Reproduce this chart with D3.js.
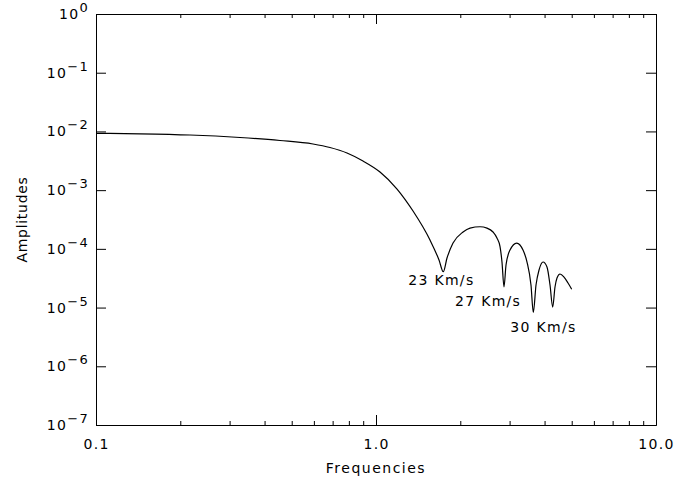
<!DOCTYPE html>
<html><head><meta charset="utf-8">
<script src="https://cdn.jsdelivr.net/npm/d3@7"></script>
<style>
body{margin:0;background:#fff;}
text{font-family:"DejaVu Sans",sans-serif;fill:#000;}
</style></head>
<body><svg id="c" width="690" height="481"></svg>
<script>
// Data
const frequencies = [0.1, 0.1436, 0.2166, 0.3268, 0.4541, 0.5957, 0.6849, 0.7878, 0.8987, 1.0335, 1.189, 1.356, 1.559, 1.679, 1.739,
  1.793, 1.884, 2.046, 2.167, 2.352, 2.491, 2.618, 2.704, 2.773, 2.818, 2.865,
  2.913, 3.010, 3.181, 3.350, 3.462, 3.577, 3.646,
  3.728, 3.822, 3.950, 4.08, 4.183, 4.276,
  4.358, 4.430, 4.541, 4.693, 4.851, 5.0];
const amplitudes = [9.29e-3, 9.11e-3, 8.69e-3, 7.88e-3, 7.00e-3, 6.10e-3, 5.32e-3, 4.29e-3, 3.13e-3, 2.036e-3, 1.045e-3, 4.41e-4, 1.415e-4, 6.46e-5, 4.08e-5,
  6.98e-5, 1.257e-4, 1.936e-4, 2.26e-4, 2.38e-4, 2.26e-4, 1.936e-4, 1.53e-4, 1.09e-4, 5.97e-5, 2.26e-5,
  5.31e-5, 9.55e-5, 1.257e-4, 9.55e-5, 5.97e-5, 2.42e-5, 8.24e-6,
  2.42e-5, 4.36e-5, 5.97e-5, 4.91e-5, 2.42e-5, 1.02e-5,
  2.24e-5, 3.19e-5, 3.73e-5, 3.31e-5, 2.62e-5, 2.05e-5];
const xMajorTicks = [0.1, 1, 10];
const xTickLabels = ["0.1", "1.0", "10.0"];
const xMinorTicks = [0.2,0.3,0.4,0.5,0.6,0.7,0.8,0.9,2,3,4,5,6,7,8,9];
const yTicks = [1e-7,1e-6,1e-5,1e-4,1e-3,1e-2,1e-1,1];
const yExponents = ["−7","−6","−5","−4","−3","−2","−1","0"];
const annotations = [
  {text:"23 Km/s", f:1.739, a:4.08e-5},
  {text:"27 Km/s", f:2.865, a:2.26e-5},
  {text:"30 Km/s", f:3.646, a:8.24e-6}
];
const annotOffsets = [[-35,13],[-49,19],[-23,19]];

const svg = d3.select("#c");
const L=96, R=656, T=14, B=425;
const x = d3.scaleLog().domain([0.1,10]).range([L,R]);
const y = d3.scaleLog().domain([1e-7,1]).range([B,T]);

const ls = "1.3px";

// bottom axis major
const gB = svg.append("g").attr("transform",`translate(0,${B})`)
  .call(d3.axisBottom(x).tickValues(xMajorTicks).tickSize(-10).tickSizeOuter(0).tickPadding(14)
    .tickFormat((d,i)=>xTickLabels[i]));
gB.selectAll("text").attr("font-size",14).attr("font-family","DejaVu Sans").style("letter-spacing",ls);
svg.append("g").attr("transform",`translate(0,${B})`)
  .call(d3.axisBottom(x).tickValues(xMinorTicks).tickSize(-4).tickSizeOuter(0).tickFormat(""));
// top axis
svg.append("g").attr("transform",`translate(0,${T})`)
  .call(d3.axisTop(x).tickValues(xMajorTicks).tickSize(-10).tickSizeOuter(0).tickFormat(""));
svg.append("g").attr("transform",`translate(0,${T})`)
  .call(d3.axisTop(x).tickValues(xMinorTicks).tickSize(-4).tickSizeOuter(0).tickFormat(""));
// left axis
const gL = svg.append("g").attr("transform",`translate(${L},0)`)
  .call(d3.axisLeft(y).tickValues(yTicks).tickSize(-10).tickSizeOuter(0).tickPadding(7).tickFormat(""));
gL.selectAll(".tick text").each(function(d,i){
  const t = d3.select(this).attr("font-size",14).attr("font-family","DejaVu Sans").style("letter-spacing",ls);
  t.text("10");
  t.append("tspan").attr("dy",-7).attr("font-size",13).text(yExponents[i]);
});
// right axis
svg.append("g").attr("transform",`translate(${R},0)`)
  .call(d3.axisRight(y).tickValues(yTicks).tickSize(-10).tickSizeOuter(0).tickFormat(""));

svg.selectAll(".domain, .tick line").attr("stroke","#000").attr("stroke-width",1);

// curve
const pts = frequencies.map((f,i)=>[f,amplitudes[i]]);
svg.append("path").datum(pts)
  .attr("fill","none").attr("stroke","#000").attr("stroke-width",1.2)
  .attr("d", d3.line().x(d=>x(d[0])).y(d=>y(d[1])).curve(d3.curveMonotoneX));

// annotations
svg.selectAll(".ann").data(annotations).enter().append("text")
  .attr("x",(d,i)=>x(d.f)+annotOffsets[i][0])
  .attr("y",(d,i)=>y(d.a)+annotOffsets[i][1])
  .attr("font-size",14).style("letter-spacing",ls)
  .text(d=>d.text);

// axis titles
svg.append("text").attr("x",(L+R)/2).attr("y",473).attr("text-anchor","middle")
  .attr("font-size",14).style("letter-spacing","1.5px").text("Frequencies");
svg.append("text").attr("transform",`translate(26.5,${(T+B)/2}) rotate(-90)`).attr("text-anchor","middle")
  .attr("font-size",14).style("letter-spacing","0.7px").text("Amplitudes");
</script></body></html>
